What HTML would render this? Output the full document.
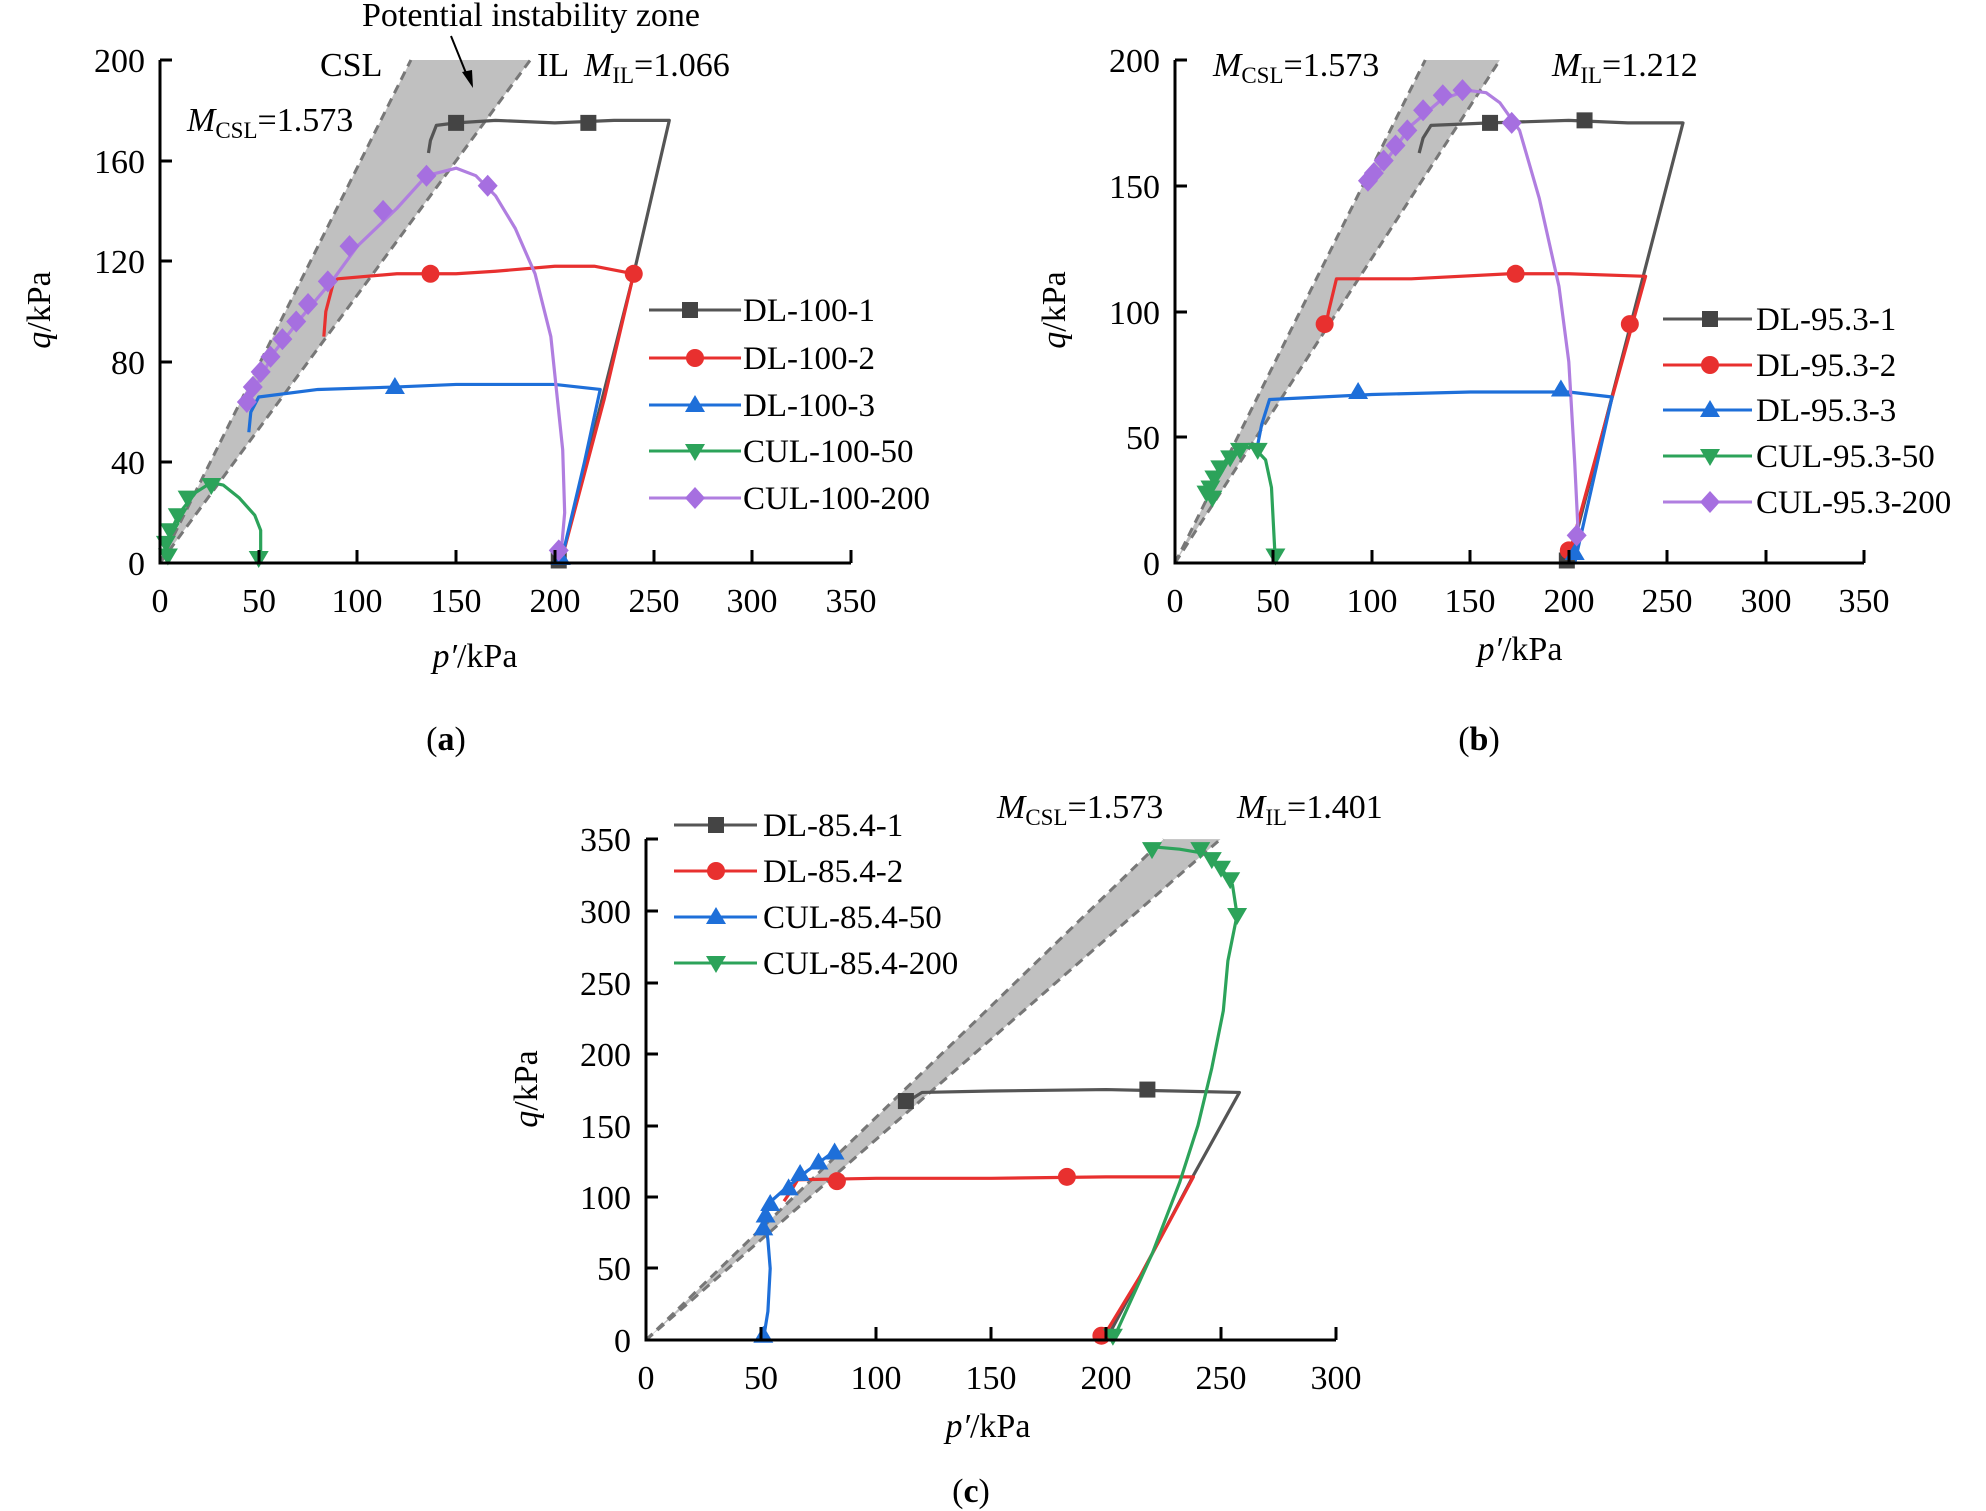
<!DOCTYPE html>
<html><head><meta charset="utf-8"><style>
body{margin:0;background:#fff}
svg{display:block;font-family:"Liberation Serif","Times New Roman",serif}
text{font-family:"Liberation Serif","Times New Roman",serif;fill:#000}
.t{font-size:34px}
.lg{font-size:33px}
</style></head><body>
<svg width="1986" height="1511" viewBox="0 0 1986 1511" xmlns="http://www.w3.org/2000/svg" font-family="Liberation Serif, serif">
<defs>
<rect id="sq" x="-8" y="-8" width="16" height="16" fill="#444"/>
<circle id="ci" r="9" fill="#e8302f"/>
<path id="tu" d="M0,-10 L10,7 L-10,7Z" fill="#1e6fd9"/>
<path id="td" d="M0,10 L10,-7 L-10,-7Z" fill="#2ca35a"/>
<path id="di" d="M0,-11 L10,0 L0,11 L-10,0Z" fill="#a66fe0"/>
</defs>
<g fill="none">

<!-- ============ (a) ============ -->
<g transform="translate(160 563) scale(1.974 -2.515)">
<polygon points="0,0 127.1,200 187.6,200" fill="#c0c0c0"/>
<line x1="0" y1="0" x2="127.1" y2="200" stroke="#777" stroke-width="3" stroke-dasharray="9,6" vector-effect="non-scaling-stroke"/>
<line x1="0" y1="0" x2="187.6" y2="200" stroke="#777" stroke-width="3" stroke-dasharray="9,6" vector-effect="non-scaling-stroke"/>
<g fill="none" stroke-width="3.2" stroke-linejoin="round">
<polyline vector-effect="non-scaling-stroke" stroke="#555" points="203,0 240,115 258,176 258,176 230,176 200,175 170,176 150,175 140,174 137,168 136,163"/>
<polyline vector-effect="non-scaling-stroke" stroke="#e8302f" points="203,0 225,65 240,115 220,118 200,118 170,116 150,115 120,115 90,113 88,112 84,100 83,90"/>
<polyline vector-effect="non-scaling-stroke" stroke="#1e6fd9" points="203,0 215,40 223,69 200,71 150,71 120,70 80,69 50,66 46,60 45,52"/>
<polyline vector-effect="non-scaling-stroke" stroke="#2ca35a" points="50,0 51,5 51,13 48,19 40,26 32,31 26,32 18,28 10,20 5,12 3,6 2,2"/>
<polyline vector-effect="non-scaling-stroke" stroke="#b07ee0" points="203,2 205,20 204,45 198,90 190,115 180,133 170,146 160,154 150,157 135,154 120,141 100,126 88,113 72,98 58,84 45,65"/>
</g>
<g>
<use href="#sq" transform="translate(150 175) scale(0.5066 -0.3976)"/>
<use href="#sq" transform="translate(217 175) scale(0.5066 -0.3976)"/>
<use href="#sq" transform="translate(202 1) scale(0.5066 -0.3976)"/>
<use href="#ci" transform="translate(137 115) scale(0.5066 -0.3976)"/>
<use href="#ci" transform="translate(240 115) scale(0.5066 -0.3976)"/>
<use href="#tu" transform="translate(119 70) scale(0.5066 -0.3976)"/>
<use href="#tu" transform="translate(203 2) scale(0.5066 -0.3976)"/>
<use href="#td" transform="translate(50 2) scale(0.5066 -0.3976)"/>
<use href="#td" transform="translate(26 31) scale(0.5066 -0.3976)"/>
<use href="#td" transform="translate(14 26) scale(0.5066 -0.3976)"/>
<use href="#td" transform="translate(9 19) scale(0.5066 -0.3976)"/>
<use href="#td" transform="translate(5 13) scale(0.5066 -0.3976)"/>
<use href="#td" transform="translate(3 8) scale(0.5066 -0.3976)"/>
<use href="#td" transform="translate(4 3) scale(0.5066 -0.3976)"/>
<use href="#di" transform="translate(202 5) scale(0.5066 -0.3976)"/>
<use href="#di" transform="translate(166 150) scale(0.5066 -0.3976)"/>
<use href="#di" transform="translate(135 154) scale(0.5066 -0.3976)"/>
<use href="#di" transform="translate(113 140) scale(0.5066 -0.3976)"/>
<use href="#di" transform="translate(96 126) scale(0.5066 -0.3976)"/>
<use href="#di" transform="translate(85 112) scale(0.5066 -0.3976)"/>
<use href="#di" transform="translate(75 103) scale(0.5066 -0.3976)"/>
<use href="#di" transform="translate(69 96) scale(0.5066 -0.3976)"/>
<use href="#di" transform="translate(62 89) scale(0.5066 -0.3976)"/>
<use href="#di" transform="translate(56 82) scale(0.5066 -0.3976)"/>
<use href="#di" transform="translate(51 76) scale(0.5066 -0.3976)"/>
<use href="#di" transform="translate(47 70) scale(0.5066 -0.3976)"/>
<use href="#di" transform="translate(44 64) scale(0.5066 -0.3976)"/>
</g>
</g>
<g stroke="#000" stroke-width="3">
<path d="M160,60 V563 H851"/>
<path d="M160,60 h12 M160,161 h12 M160,261 h12 M160,362 h12 M160,462 h12"/>
<path d="M259,563 v-13 M357,563 v-13 M456,563 v-13 M555,563 v-13 M654,563 v-13 M752,563 v-13 M851,563 v-13"/>
</g>
<g class="t" text-anchor="end">
<text x="145" y="72">200</text><text x="145" y="173">160</text><text x="145" y="273">120</text><text x="145" y="374">80</text><text x="145" y="474">40</text><text x="145" y="575">0</text>
</g>
<g class="t" text-anchor="middle">
<text x="160" y="612">0</text><text x="259" y="612">50</text><text x="357" y="612">100</text><text x="456" y="612">150</text><text x="555" y="612">200</text><text x="654" y="612">250</text><text x="752" y="612">300</text><text x="851" y="612">350</text>
</g>
<text x="475" y="667" class="t" text-anchor="middle"><tspan font-style="italic">p′</tspan>/kPa</text>
<text transform="translate(50 310) rotate(-90)" class="t" text-anchor="middle"><tspan font-style="italic">q</tspan>/kPa</text>
<text x="446" y="750" class="t" text-anchor="middle">(<tspan font-weight="bold">a</tspan>)</text>
<text x="531" y="26" class="t" text-anchor="middle">Potential instability zone</text>
<line x1="451" y1="36" x2="468" y2="78" stroke="#000" stroke-width="2"/>
<path d="M473,88 L462,72 L472,70Z" fill="#000"/>
<text x="320" y="76" class="t">CSL</text>
<text x="537" y="76" class="t">IL</text>
<text x="584" y="76" class="t"><tspan font-style="italic">M</tspan><tspan font-size="23" dy="7">IL</tspan><tspan dy="-7">=1.066</tspan></text>
<text x="187" y="131" class="t"><tspan font-style="italic">M</tspan><tspan font-size="23" dy="7">CSL</tspan><tspan dy="-7">=1.573</tspan></text>
<g stroke-width="3">
<line x1="649" y1="310" x2="741" y2="310" stroke="#555"/><use href="#sq" x="690" y="310"/>
<line x1="649" y1="358" x2="741" y2="358" stroke="#e8302f"/><use href="#ci" x="695" y="358"/>
<line x1="649" y1="405" x2="741" y2="405" stroke="#1e6fd9"/><use href="#tu" x="695" y="405"/>
<line x1="649" y1="451" x2="741" y2="451" stroke="#2ca35a"/><use href="#td" x="695" y="451"/>
<line x1="649" y1="498" x2="741" y2="498" stroke="#b07ee0"/><use href="#di" x="695" y="498"/>
</g>
<g class="lg"><text x="743" y="321">DL-100-1</text><text x="743" y="369">DL-100-2</text><text x="743" y="416">DL-100-3</text><text x="743" y="462">CUL-100-50</text><text x="743" y="509">CUL-100-200</text></g>

<!-- ============ (b) ============ -->
<g transform="translate(1175 563) scale(1.969 -2.515)">
<polygon points="0,0 127.1,200 165,200" fill="#c0c0c0"/>
<line x1="0" y1="0" x2="127.1" y2="200" stroke="#777" stroke-width="3" stroke-dasharray="9,6" vector-effect="non-scaling-stroke"/>
<line x1="0" y1="0" x2="165" y2="200" stroke="#777" stroke-width="3" stroke-dasharray="9,6" vector-effect="non-scaling-stroke"/>
<g fill="none" stroke-width="3.2" stroke-linejoin="round">
<polyline vector-effect="non-scaling-stroke" stroke="#555" points="200,0 258,175 230,175 200,176 160,175 130,174 126,169 124,163"/>
<polyline vector-effect="non-scaling-stroke" stroke="#e8302f" points="199,0 220,60 239,114 200,115 170,115 120,113 82,113 78,100 76,92"/>
<polyline vector-effect="non-scaling-stroke" stroke="#1e6fd9" points="203,0 222,66 200,68 150,68 100,67 48,65 44,55 42,47"/>
<polyline vector-effect="non-scaling-stroke" stroke="#2ca35a" points="51,0 50,15 49,30 46,41 40,46 33,46 27,42 21,36 16,28"/>
<polyline vector-effect="non-scaling-stroke" stroke="#b07ee0" points="205,8 203,40 200,80 195,110 185,145 175,172 165,183 158,187 148,188 135,184 120,174 100,152"/>
</g>
<g>
<use href="#sq" transform="translate(160 175) scale(0.5079 -0.3976)"/>
<use href="#sq" transform="translate(208 176) scale(0.5079 -0.3976)"/>
<use href="#sq" transform="translate(199 1) scale(0.5079 -0.3976)"/>
<use href="#ci" transform="translate(76 95) scale(0.5079 -0.3976)"/>
<use href="#ci" transform="translate(173 115) scale(0.5079 -0.3976)"/>
<use href="#ci" transform="translate(231 95) scale(0.5079 -0.3976)"/>
<use href="#ci" transform="translate(200 5) scale(0.5079 -0.3976)"/>
<use href="#tu" transform="translate(93 68) scale(0.5079 -0.3976)"/>
<use href="#tu" transform="translate(196 69) scale(0.5079 -0.3976)"/>
<use href="#tu" transform="translate(203 4) scale(0.5079 -0.3976)"/>
<use href="#td" transform="translate(51 3) scale(0.5079 -0.3976)"/>
<use href="#td" transform="translate(42 45) scale(0.5079 -0.3976)"/>
<use href="#td" transform="translate(33 45) scale(0.5079 -0.3976)"/>
<use href="#td" transform="translate(28 42) scale(0.5079 -0.3976)"/>
<use href="#td" transform="translate(23 38) scale(0.5079 -0.3976)"/>
<use href="#td" transform="translate(20 34) scale(0.5079 -0.3976)"/>
<use href="#td" transform="translate(18 30) scale(0.5079 -0.3976)"/>
<use href="#td" transform="translate(16 28) scale(0.5079 -0.3976)"/>
<use href="#td" transform="translate(19 26) scale(0.5079 -0.3976)"/>
<use href="#di" transform="translate(204 11) scale(0.5079 -0.3976)"/>
<use href="#di" transform="translate(171 175) scale(0.5079 -0.3976)"/>
<use href="#di" transform="translate(146 188) scale(0.5079 -0.3976)"/>
<use href="#di" transform="translate(136 186) scale(0.5079 -0.3976)"/>
<use href="#di" transform="translate(126 180) scale(0.5079 -0.3976)"/>
<use href="#di" transform="translate(118 172) scale(0.5079 -0.3976)"/>
<use href="#di" transform="translate(112 166) scale(0.5079 -0.3976)"/>
<use href="#di" transform="translate(106 160) scale(0.5079 -0.3976)"/>
<use href="#di" transform="translate(101 155) scale(0.5079 -0.3976)"/>
<use href="#di" transform="translate(98 152) scale(0.5079 -0.3976)"/>
</g>
</g>
<g stroke="#000" stroke-width="3">
<path d="M1175,60 V563 H1864"/>
<path d="M1175,60 h12 M1175,186 h12 M1175,312 h12 M1175,437 h12"/>
<path d="M1273,563 v-13 M1372,563 v-13 M1470,563 v-13 M1569,563 v-13 M1667,563 v-13 M1766,563 v-13 M1864,563 v-13"/>
</g>
<g class="t" text-anchor="end">
<text x="1160" y="72">200</text><text x="1160" y="198">150</text><text x="1160" y="324">100</text><text x="1160" y="449">50</text><text x="1160" y="575">0</text>
</g>
<g class="t" text-anchor="middle">
<text x="1175" y="612">0</text><text x="1273" y="612">50</text><text x="1372" y="612">100</text><text x="1470" y="612">150</text><text x="1569" y="612">200</text><text x="1667" y="612">250</text><text x="1766" y="612">300</text><text x="1864" y="612">350</text>
</g>
<text x="1520" y="660" class="t" text-anchor="middle"><tspan font-style="italic">p′</tspan>/kPa</text>
<text transform="translate(1065 310) rotate(-90)" class="t" text-anchor="middle"><tspan font-style="italic">q</tspan>/kPa</text>
<text x="1479" y="750" class="t" text-anchor="middle">(<tspan font-weight="bold">b</tspan>)</text>
<text x="1213" y="76" class="t"><tspan font-style="italic">M</tspan><tspan font-size="23" dy="7">CSL</tspan><tspan dy="-7">=1.573</tspan></text>
<text x="1552" y="76" class="t"><tspan font-style="italic">M</tspan><tspan font-size="23" dy="7">IL</tspan><tspan dy="-7">=1.212</tspan></text>
<g stroke-width="3">
<line x1="1663" y1="319" x2="1752" y2="319" stroke="#555"/><use href="#sq" x="1710" y="319"/>
<line x1="1663" y1="365" x2="1752" y2="365" stroke="#e8302f"/><use href="#ci" x="1710" y="365"/>
<line x1="1663" y1="410" x2="1752" y2="410" stroke="#1e6fd9"/><use href="#tu" x="1710" y="410"/>
<line x1="1663" y1="456" x2="1752" y2="456" stroke="#2ca35a"/><use href="#td" x="1710" y="456"/>
<line x1="1663" y1="502" x2="1752" y2="502" stroke="#b07ee0"/><use href="#di" x="1710" y="502"/>
</g>
<g class="lg"><text x="1756" y="330">DL-95.3-1</text><text x="1756" y="376">DL-95.3-2</text><text x="1756" y="421">DL-95.3-3</text><text x="1756" y="467">CUL-95.3-50</text><text x="1756" y="513">CUL-95.3-200</text></g>

<!-- ============ (c) ============ -->
<g transform="translate(646 1340) scale(2.3 -1.431)">
<polygon points="0,0 225,350 249.8,350" fill="#c0c0c0"/>
<line x1="0" y1="0" x2="225" y2="350" stroke="#777" stroke-width="3" stroke-dasharray="9,6" vector-effect="non-scaling-stroke"/>
<line x1="0" y1="0" x2="249.8" y2="350" stroke="#777" stroke-width="3" stroke-dasharray="9,6" vector-effect="non-scaling-stroke"/>
<g fill="none" stroke-width="3.2" stroke-linejoin="round">
<polyline vector-effect="non-scaling-stroke" stroke="#555" points="200,0 220,60 238,115 258,173 230,174 200,175 150,174 120,173 114,167"/>
<polyline vector-effect="non-scaling-stroke" stroke="#e8302f" points="198,0 215,45 230,90 238,114 200,114 150,113 100,113 66,112 63,104 60,97"/>
<polyline vector-effect="non-scaling-stroke" stroke="#1e6fd9" points="51,0 53,20 54,50 53,70 52,82 53,95 60,105 70,118 82,132"/>
<polyline vector-effect="non-scaling-stroke" stroke="#2ca35a" points="203,0 220,60 232,110 240,150 246,190 251,230 253,265 257,297 255,318 250,330 243,340 232,343 218,345"/>
</g>
<g>
<use href="#sq" transform="translate(113 167) scale(0.4348 -0.6988)"/>
<use href="#sq" transform="translate(218 175) scale(0.4348 -0.6988)"/>
<use href="#ci" transform="translate(83 111) scale(0.4348 -0.6988)"/>
<use href="#ci" transform="translate(183 114) scale(0.4348 -0.6988)"/>
<use href="#ci" transform="translate(198 3) scale(0.4348 -0.6988)"/>
<use href="#tu" transform="translate(51 3) scale(0.4348 -0.6988)"/>
<use href="#tu" transform="translate(51 78) scale(0.4348 -0.6988)"/>
<use href="#tu" transform="translate(52 87) scale(0.4348 -0.6988)"/>
<use href="#tu" transform="translate(54 95) scale(0.4348 -0.6988)"/>
<use href="#tu" transform="translate(62 106) scale(0.4348 -0.6988)"/>
<use href="#tu" transform="translate(67 116) scale(0.4348 -0.6988)"/>
<use href="#tu" transform="translate(75 124) scale(0.4348 -0.6988)"/>
<use href="#tu" transform="translate(82 131) scale(0.4348 -0.6988)"/>
<use href="#td" transform="translate(203 3) scale(0.4348 -0.6988)"/>
<use href="#td" transform="translate(220 343) scale(0.4348 -0.6988)"/>
<use href="#td" transform="translate(241 343) scale(0.4348 -0.6988)"/>
<use href="#td" transform="translate(246 336) scale(0.4348 -0.6988)"/>
<use href="#td" transform="translate(250 330) scale(0.4348 -0.6988)"/>
<use href="#td" transform="translate(254 322) scale(0.4348 -0.6988)"/>
<use href="#td" transform="translate(257 297) scale(0.4348 -0.6988)"/>
</g>
</g>
<g stroke="#000" stroke-width="3">
<path d="M646,839 V1340 H1336"/>
<path d="M646,839 h12 M646,911 h12 M646,983 h12 M646,1054 h12 M646,1126 h12 M646,1197 h12 M646,1268 h12"/>
<path d="M761,1340 v-13 M876,1340 v-13 M991,1340 v-13 M1106,1340 v-13 M1221,1340 v-13 M1336,1340 v-13"/>
</g>
<g class="t" text-anchor="end">
<text x="631" y="851">350</text><text x="631" y="923">300</text><text x="631" y="995">250</text><text x="631" y="1066">200</text><text x="631" y="1138">150</text><text x="631" y="1209">100</text><text x="631" y="1280">50</text><text x="631" y="1352">0</text>
</g>
<g class="t" text-anchor="middle">
<text x="646" y="1389">0</text><text x="761" y="1389">50</text><text x="876" y="1389">100</text><text x="991" y="1389">150</text><text x="1106" y="1389">200</text><text x="1221" y="1389">250</text><text x="1336" y="1389">300</text>
</g>
<text x="988" y="1437" class="t" text-anchor="middle"><tspan font-style="italic">p′</tspan>/kPa</text>
<text transform="translate(537 1089) rotate(-90)" class="t" text-anchor="middle"><tspan font-style="italic">q</tspan>/kPa</text>
<text x="971" y="1502" class="t" text-anchor="middle">(<tspan font-weight="bold">c</tspan>)</text>
<text x="997" y="818" class="t"><tspan font-style="italic">M</tspan><tspan font-size="23" dy="7">CSL</tspan><tspan dy="-7">=1.573</tspan></text>
<text x="1237" y="818" class="t"><tspan font-style="italic">M</tspan><tspan font-size="23" dy="7">IL</tspan><tspan dy="-7">=1.401</tspan></text>
<g stroke-width="3">
<line x1="674" y1="825" x2="757" y2="825" stroke="#555"/><use href="#sq" x="716" y="825"/>
<line x1="674" y1="871" x2="757" y2="871" stroke="#e8302f"/><use href="#ci" x="716" y="871"/>
<line x1="674" y1="917" x2="757" y2="917" stroke="#1e6fd9"/><use href="#tu" x="716" y="917"/>
<line x1="674" y1="963" x2="757" y2="963" stroke="#2ca35a"/><use href="#td" x="716" y="963"/>
</g>
<g class="lg"><text x="763" y="836">DL-85.4-1</text><text x="763" y="882">DL-85.4-2</text><text x="763" y="928">CUL-85.4-50</text><text x="763" y="974">CUL-85.4-200</text></g>
</g>
</svg>
</body></html>
